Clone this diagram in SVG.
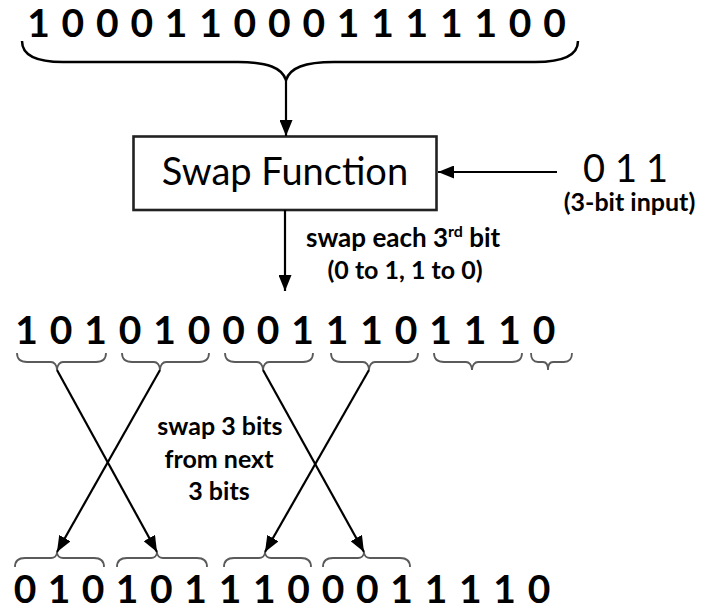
<svg xmlns="http://www.w3.org/2000/svg" width="702" height="611" viewBox="0 0 702 611">
  <style>
    .bits { font-family: Lato, "Open Sans", sans-serif; font-size: 39px; font-weight: bold; fill: #000; text-anchor: middle; }
    .lbl { font-family: Lato, "Open Sans", sans-serif; font-size: 25px; font-weight: bold; fill: #000; }
    .big { font-family: Lato, "Open Sans", sans-serif; font-size: 38px; fill: #000; }
    .brace { fill: none; stroke: #000; stroke-width: 2.5; }
    .gbrace { fill: none; stroke: #5a5a5a; stroke-width: 1.8; }
    .wire { fill: none; stroke: #000; stroke-width: 2.2; marker-end: url(#head); }
  </style>
  <defs>
    <marker id="head" viewBox="0 0 16 13" refX="16" refY="6.5" markerWidth="16" markerHeight="13" markerUnits="userSpaceOnUse" orient="auto">
      <path d="M0,0 L16,6.5 L0,13 z" fill="#000"/>
    </marker>
  </defs>

  <rect width="702" height="611" fill="#fff"/>

  <!-- input word -->
  <g id="input-bits" class="bits">
    <text x="38.5" y="37">1</text><text x="72.9" y="37">0</text><text x="107.3" y="37">0</text><text x="141.7" y="37">0</text>
    <text x="176.1" y="37">1</text><text x="210.5" y="37">1</text><text x="244.9" y="37">0</text><text x="279.3" y="37">0</text>
    <text x="313.7" y="37">0</text><text x="348.1" y="37">1</text><text x="382.5" y="37">1</text><text x="416.9" y="37">1</text>
    <text x="451.3" y="37">1</text><text x="485.7" y="37">1</text><text x="520.1" y="37">0</text><text x="554.5" y="37">0</text>
  </g>
  <g id="input-brace">
    <path class="brace" d="M22,41 C22,55 35,62 63,62 L238,62 C268,62 282,68 286,80 C290,68 304,62 334,62 L535,62 C565,62 578,55 578,41"/>
  </g>

  <!-- swap function block -->
  <g id="swap-function">
    <rect x="133.5" y="136.5" width="303" height="73.5" fill="#fff" stroke="#222" stroke-width="2.6"/>
    <text class="big" x="285" y="185" text-anchor="middle">Swap Function</text>
  </g>

  <!-- 3-bit key -->
  <g id="key">
    <text class="big" x="594" y="182" text-anchor="middle" font-size="34">0</text>
    <text class="big" x="626" y="182" text-anchor="middle" font-size="34">1</text>
    <text class="big" x="657" y="182" text-anchor="middle" font-size="34">1</text>
    <text class="lbl" x="629.5" y="211" text-anchor="middle" font-size="26">(3-bit input)</text>
  </g>

  <!-- label on the output arrow -->
  <g id="flip-label" class="lbl">
    <text x="306" y="247" font-size="26">swap each 3<tspan font-size="16" dy="-10">rd</tspan><tspan dy="10"> bit</tspan></text>
    <text x="405" y="279" text-anchor="middle">(0 to 1, 1 to 0)</text>
  </g>

  <!-- intermediate word -->
  <g id="flipped-bits" class="bits">
    <text x="26.5" y="344">1</text><text x="61" y="344">0</text><text x="95.5" y="344">1</text><text x="130" y="344">0</text>
    <text x="164.5" y="344">1</text><text x="199" y="344">0</text><text x="233.5" y="344">0</text><text x="268" y="344">0</text>
    <text x="302.5" y="344">1</text><text x="337" y="344">1</text><text x="371.5" y="344">1</text><text x="406" y="344">0</text>
    <text x="440.5" y="344">1</text><text x="475" y="344">1</text><text x="509.5" y="344">1</text><text x="544" y="344">0</text>
  </g>
  <g id="flipped-groups">
    <path class="gbrace" d="M17,353 C17,359 20,362 27,362 L51,362 C54,362 57,365 57,370 C57,365 60,362 63,362 L96,362 C103,362 106,359 106,353"/>
    <path class="gbrace" d="M122,353 C122,359 125,362 132,362 L154,362 C157,362 160,365 160,370 C160,365 163,362 166,362 L199,362 C206,362 209,359 209,353"/>
    <path class="gbrace" d="M225,353 C225,359 228,362 235,362 L257,362 C260,362 263,365 263,370 C263,365 266,362 269,362 L303,362 C310,362 313,359 313,353"/>
    <path class="gbrace" d="M331,353 C331,359 334,362 341,362 L363,362 C366,362 369,365 369,370 C369,365 372,362 375,362 L408,362 C415,362 418,359 418,353"/>
    <path class="gbrace" d="M434,353 C434,359 437,362 444,362 L466,362 C469,362 472,365 472,370 C472,365 475,362 478,362 L512,362 C519,362 522,359 522,353"/>
    <path class="gbrace" d="M531,353 C531,359 533,362 538,362 L543,362 C546,362 548,365 548,370 C548,365 550,362 553,362 L564,362 C569,362 572,359 572,353"/>
  </g>

  <g id="swap-label" class="lbl" text-anchor="middle">
    <text x="220" y="435">swap 3 bits</text>
    <text x="219" y="468">from next</text>
    <text x="219" y="500">3 bits</text>
  </g>

  <!-- output word -->
  <g id="output-groups">
    <path class="gbrace" d="M15,567 C15,561 18,558 25,558 L51,558 C54,558 57,556 57,552 C57,556 60,558 63,558 L94,558 C101,558 104,561 104,567"/>
    <path class="gbrace" d="M117,567 C117,561 120,558 127,558 L151,558 C154,558 157,556 157,552 C157,556 160,558 163,558 L197,558 C204,558 207,561 207,567"/>
    <path class="gbrace" d="M224,567 C224,561 227,558 234,558 L259,558 C262,558 265,556 265,552 C265,556 268,558 271,558 L301,558 C308,558 311,561 311,567"/>
    <path class="gbrace" d="M323,567 C323,561 326,558 333,558 L358,558 C361,558 364,556 364,552 C364,556 367,558 370,558 L400,558 C407,558 410,561 410,567"/>
  </g>
  <g id="output-bits" class="bits">
    <text x="25" y="603">0</text><text x="59" y="603">1</text><text x="93" y="603">0</text><text x="127" y="603">1</text>
    <text x="161.3" y="603">0</text><text x="195.6" y="603">1</text><text x="230" y="603">1</text><text x="264.3" y="603">1</text>
    <text x="298.6" y="603">0</text><text x="333" y="603">0</text><text x="367.3" y="603">0</text><text x="401.6" y="603">1</text>
    <text x="436" y="603">1</text><text x="470.3" y="603">1</text><text x="504.6" y="603">1</text><text x="539" y="603">0</text>
  </g>

  <!-- connectors -->
  <g id="connectors">
    <path class="wire" d="M286,80 L286,136"/>
    <path class="wire" d="M557,172 L438,172"/>
    <path class="wire" d="M285,210 L285,291"/>
    <path class="wire" d="M57,370 L157,552"/>
    <path class="wire" d="M160,370 L57,552"/>
    <path class="wire" d="M263,370 L364,552"/>
    <path class="wire" d="M369,370 L265,552"/>
  </g>
</svg>
